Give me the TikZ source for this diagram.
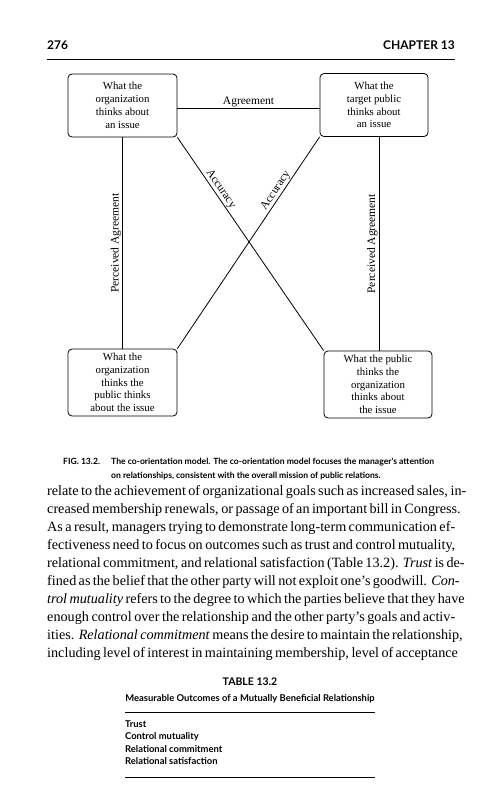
\documentclass[tikz,border=0pt]{standalone}
\usepackage{fontspec}
\setmainfont{Liberation Serif}
\newfontfamily\sansf{Lato}
\begin{document}
\begin{tikzpicture}[x=1pt,y=-1pt,
  box/.style={draw, line width=0.8pt, rounded corners=4pt, align=center, font=\fontsize{10.8}{12.8}\selectfont, inner sep=0pt},
  conn/.style={line width=0.8pt},
  elabel/.style={font=\fontsize{11.5}{13}\selectfont, inner sep=1pt},
  bodyline/.style={anchor=base west, inner sep=0pt, font=\fontsize{14.2}{16}\selectfont},
  sanslab/.style={inner sep=0pt, font=\sansf\bfseries\fontsize{8.6}{10}\selectfont},
  tabitem/.style={anchor=base west, inner sep=0pt, font=\sansf\bfseries\fontsize{9.4}{11}\selectfont},
  rulel/.style={line width=0.9pt}]
\useasboundingbox (0,0) rectangle (500,800);
\fill[white] (0,0) rectangle (500,800);

% header
\node[anchor=base west, inner sep=0pt, font=\sansf\bfseries\fontsize{12}{14}\selectfont] (pg) at (47,50) {276};
\node[anchor=base east, inner sep=0pt, font=\sansf\bfseries\fontsize{12}{14}\selectfont] (ch) at (455,50) {CHAPTER 13};
\draw[line width=0.8pt] (47,59) -- (455,59);

% boxes
\node[box, minimum width=109pt, minimum height=63pt] (tl) at (122.5,105.5) {What the\\organization\\thinks about\\an issue};
\node[box, minimum width=108pt, minimum height=63pt] (tr) at (374,105) {What the\\target public\\thinks about\\an issue};
\node[box, minimum width=109pt, minimum height=67pt] (bl) at (122.5,382.5) {What the\\organization\\thinks the\\public thinks\\about the issue};
\node[box, minimum width=108pt, minimum height=67pt] (br) at (378,384.5) {What the public\\thinks the\\organization\\thinks about\\the issue};

% connectors
\draw[conn] ([yshift=-2.5pt]tl.east) -- node[elabel, above] (agr) {Agreement} ([yshift=-2.5pt]tl.east -| tr.west);
\draw[conn] (tl.south) -- node[elabel, midway, rotate=90, anchor=south] (pa1) {Perceived Agreement} (tl.south |- bl.north);
\draw[conn] ([xshift=5pt]tr.south) -- node[elabel, midway, rotate=90, anchor=south] (pa2) {Perceived Agreement} ([xshift=5pt]tr.south |- br.north);
\draw[conn] (tl.south east) -- node[elabel, pos=0.26, sloped, above] (acc1) {Accuracy} (br.north west);
\draw[conn] (bl.north east) -- node[elabel, pos=0.73, sloped, above] (acc2) {Accuracy} (tr.south west);

% caption
\node[sanslab, anchor=base west] (figl) at (63,464) {FIG. 13.2.};
\node[sanslab, anchor=base west] (cap1) at (111,464) {The co-orientation model. The co-orientation model focuses the manager's attention};
\node[sanslab, anchor=base west] (cap2) at (111,478) {on relationships, consistent with the overall mission of public relations.};

% body text
\node[bodyline] (l1) at (47,495) {\makebox[408pt][s]{relate to the achievement of organizational goals such as increased sales, in-}};
\node[bodyline] (l2) at (47,513) {\makebox[408pt][s]{creased membership renewals, or passage of an important bill in Congress.}};
\node[bodyline] (l3) at (47,531) {\makebox[408pt][s]{As a result, managers trying to demonstrate long-term communication ef-}};
\node[bodyline] (l4) at (47,549) {\makebox[408pt][s]{fectiveness need to focus on outcomes such as trust and control mutuality,}};
\node[bodyline] (l5) at (47,567) {\makebox[408pt][s]{relational commitment, and relational satisfaction (Table 13.2). \textit{Trust} is de-}};
\node[bodyline] (l6) at (47,585) {\makebox[408pt][s]{fined as the belief that the other party will not exploit one's goodwill. \textit{Con-}}};
\node[bodyline] (l7) at (47,603) {\makebox[408pt][s]{\textit{trol mutuality} refers to the degree to which the parties believe that they have}};
\node[bodyline] (l8) at (47,621) {\makebox[408pt][s]{enough control over the relationship and the other party's goals and activ-}};
\node[bodyline] (l9) at (47,639) {\makebox[408pt][s]{ities. \textit{Relational commitment} means the desire to maintain the relationship,}};
\node[bodyline] (l10) at (47,657) {\makebox[408pt][s]{including level of interest in maintaining membership, level of acceptance}};

% table
\node[anchor=base, inner sep=0pt, font=\sansf\bfseries\fontsize{10.5}{12}\selectfont] (tt) at (250,685) {TABLE 13.2};
\node[anchor=base, inner sep=0pt, font=\sansf\bfseries\fontsize{9.4}{11}\selectfont] (ts) at (250,701) {Measurable Outcomes of a Mutually Beneficial Relationship};
\draw[rulel] (125,712) -- (375,712);
\node[tabitem] (t1) at (125,727) {Trust};
\node[tabitem] (t2) at (125,739.5) {Control mutuality};
\node[tabitem] (t3) at (125,752) {Relational commitment};
\node[tabitem] (t4) at (125,764.5) {Relational satisfaction};
\draw[rulel] (125,777) -- (375,777);
\end{tikzpicture}
\end{document}
